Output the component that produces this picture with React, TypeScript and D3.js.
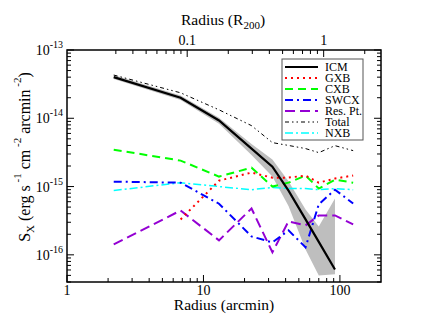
import * as d3 from 'd3';

// radius bins (arcmin)
const radius = [2.2, 6.8, 13, 22.5, 32, 42, 56, 70, 92, 125];
const icm = [4.0e-14, 2.0e-14, 9.3e-15, 3.6e-15, 1.95e-15, 8.7e-16, 3.3e-16, 1.55e-16, 6.1e-17];
const icmLow = [3.75e-14, 1.85e-14, 8.3e-15, 2.9e-15, 1.4e-15, 5.2e-16, 1.2e-16, 5.0e-17, 5.2e-17];
const icmHigh = [4.3e-14, 2.15e-14, 1.02e-14, 4.2e-15, 2.5e-15, 1.2e-15, 4.6e-16, 2.6e-16, 6.7e-16];
const gxb = [null, 3.3e-16, 1.22e-15, 1.6e-15, 1.35e-15, 1.35e-15, 1.45e-15, 1.14e-15, 1.31e-15, 1.45e-15];
const cxb = [3.47e-15, 2.4e-15, 1.4e-15, 1.89e-15, 1.0e-15, 1.14e-15, 1.45e-15, 9.35e-16, 1.26e-15, 1.14e-15];
const swcx = [1.18e-15, 1.14e-15, 5.6e-16, 1.86e-16, 1.52e-16, 2.28e-16, 1.29e-16, 5.5e-16, 9.0e-16, 5.65e-16];
const resPt = [1.42e-16, 4.46e-16, 1.63e-16, 4.77e-16, 1.09e-16, 3.09e-16, 2.7e-16, 3.78e-16, 3.78e-16, 2.79e-16];
const total = [4.3e-14, 2.36e-14, 1.33e-14, 7.8e-15, 4.4e-15, 4.0e-15, 3.6e-15, 3.14e-15, 3.97e-15, 3.36e-15];
const nxb = [8.74e-16, 1.14e-15, 1.0e-15, 9.0e-16, 9.7e-16, 9.35e-16, 9.35e-16, 9.0e-16, 9.35e-16, 9.0e-16];

const r200 = 76; // arcmin per R200
const xTicks = [1, 10, 100];
const yTicks = [1e-13, 1e-14, 1e-15, 1e-16];
const topTicks = [0.1, 1];

const series = [
  { name: 'ICM', values: icm, color: '#000000', width: 2.2, dash: '' },
  { name: 'GXB', values: gxb, color: '#ff0000', width: 2, dash: '2,4' },
  { name: 'CXB', values: cxb, color: '#00ff00', width: 2, dash: '8,5' },
  { name: 'SWCX', values: swcx, color: '#0000ff', width: 2, dash: '8,4,2,4' },
  { name: 'Res. Pt.', values: resPt, color: '#9400d3', width: 2, dash: '10,5' },
  { name: 'Total', values: total, color: '#000000', width: 1, dash: '4,3,1.5,3,1.5,3' },
  { name: 'NXB', values: nxb, color: '#00ffff', width: 1.5, dash: '8,3,2,3' },
];

const L = 67, R = 381, T = 50, B = 282;
const font = "'Liberation Serif', 'Times New Roman', serif";

const App = () => {
  const x = d3.scaleLog().domain([1, 200]).range([L, R]);
  const y = d3.scaleLog().domain([4e-17, 1e-13]).range([B, T]);

  const line = d3.line<[number, number | null]>()
    .defined(d => d[1] != null)
    .x(d => x(d[0]))
    .y(d => y(d[1] as number));

  const band = d3.area<number>()
    .x((_, i) => x(radius[i]))
    .y0((_, i) => y(icmLow[i]))
    .y1((_, i) => y(icmHigh[i]));

  const xMinor: number[] = [];
  for (const dec of [1, 10, 100]) for (let k = 2; k <= 9; k++) if (dec * k < 200) xMinor.push(dec * k);
  const yMinor: number[] = [];
  for (const dec of [1e-17, 1e-16, 1e-15, 1e-14]) for (let k = 2; k <= 9; k++) if (dec * k >= 4e-17) yMinor.push(dec * k);
  const topMinor: number[] = [];
  for (const dec of [0.01, 0.1, 1]) for (let k = 2; k <= 9; k++) {
    const v = dec * k;
    if (v >= 0.03 && v * r200 < 200) topMinor.push(v);
  }

  const expLabel = (v: number) => Math.round(Math.log10(v));

  return (
    <svg width={430} height={332} style={{ display: 'block', position: 'absolute', left: 0, top: 0, fontFamily: font }}>
      <rect width={430} height={332} fill="#fff" />
      <clipPath id="plot"><rect x={L} y={T} width={R - L} height={B - T} /></clipPath>

      <g clipPath="url(#plot)">
        <path d={band(icmLow) || ''} fill="#bebebe" />
        {series.slice().reverse().map(s => (
          <path key={s.name}
            d={line(s.values.map((v, i) => [radius[i], v] as [number, number | null])) || ''}
            fill="none" stroke={s.color} strokeWidth={s.width} strokeDasharray={s.dash || undefined} />
        ))}
      </g>

      {/* frame */}
      <rect x={L} y={T} width={R - L} height={B - T} fill="none" stroke="#000" strokeWidth={1.5} />

      {/* bottom / top x ticks */}
      {xTicks.map(t => (
        <g key={'xt' + t}>
          <line x1={x(t)} x2={x(t)} y1={B} y2={B - 7} stroke="#000" />
          <text x={x(t)} y={295} fontSize={14} textAnchor="middle">{t}</text>
        </g>
      ))}
      {xMinor.map(t => (
        <line key={'xm' + t} x1={x(t)} x2={x(t)} y1={B} y2={B - 4} stroke="#000" />
      ))}
      {topTicks.map(t => (
        <g key={'tt' + t}>
          <line x1={x(t * r200)} x2={x(t * r200)} y1={T} y2={T + 7} stroke="#000" />
          <text x={x(t * r200)} y={45} fontSize={14} textAnchor="middle">{t}</text>
        </g>
      ))}
      {topMinor.map(t => (
        <line key={'tm' + t} x1={x(t * r200)} x2={x(t * r200)} y1={T} y2={T + 4} stroke="#000" />
      ))}

      {/* left / right y ticks */}
      {yTicks.map(t => (
        <g key={'yt' + t}>
          <line x1={L} x2={L + 7} y1={y(t)} y2={y(t)} stroke="#000" />
          <line x1={R} x2={R - 7} y1={y(t)} y2={y(t)} stroke="#000" />
          <text x={L - 4} y={y(t) + 5} fontSize={14} textAnchor="end">
            10<tspan dy={-7} fontSize={10}>{expLabel(t)}</tspan>
          </text>
        </g>
      ))}
      {yMinor.map(t => (
        <g key={'ym' + t}>
          <line x1={L} x2={L + 4} y1={y(t)} y2={y(t)} stroke="#000" />
          <line x1={R} x2={R - 4} y1={y(t)} y2={y(t)} stroke="#000" />
        </g>
      ))}

      {/* axis titles */}
      <text x={224} y={310} fontSize={15.5} textAnchor="middle">Radius (arcmin)</text>
      <text x={223} y={25} fontSize={15.5} textAnchor="middle">
        Radius (R<tspan dy={4} fontSize={11}>200</tspan><tspan dy={-4}>)</tspan>
      </text>
      <text transform="translate(30,157) rotate(-90)" fontSize={16} textAnchor="middle">
        S<tspan dy={4} fontSize={11}>X</tspan>
        <tspan dy={-4}> (erg s</tspan><tspan dy={-9} fontSize={11}> -1</tspan>
        <tspan dy={9}>  cm</tspan><tspan dy={-9} fontSize={11}> -2</tspan>
        <tspan dy={9}>  arcmin</tspan><tspan dy={-9} fontSize={11}> -2</tspan>
        <tspan dy={9}>)</tspan>
      </text>

      {/* legend */}
      <rect x={282} y={59} width={81} height={81} fill="#fff" stroke="#555" strokeWidth={1} />
      {series.map((s, i) => (
        <g key={'lg' + s.name}>
          <line x1={285} x2={318} y1={67 + i * 11} y2={67 + i * 11}
            stroke={s.color} strokeWidth={s.width} strokeDasharray={s.dash || undefined} />
          <text x={325} y={71 + i * 11} fontSize={12}>{s.name}</text>
        </g>
      ))}
    </svg>
  );
};

export default App;
